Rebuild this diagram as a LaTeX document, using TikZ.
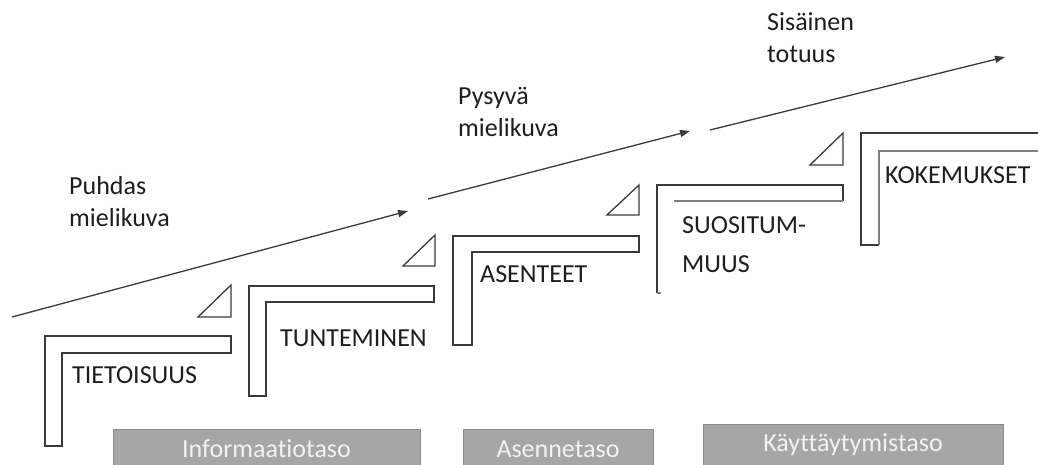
\documentclass[tikz,border=0pt]{standalone}
\usepackage{fontspec}
\setmainfont{Carlito}[Ligatures={NoCommon,NoContextual}]
\usetikzlibrary{arrows.meta}
\definecolor{inkline}{HTML}{3A3A3A}
\definecolor{softline}{HTML}{7F7F7F}
\definecolor{bandfill}{HTML}{A6A6A6}
\definecolor{bandedge}{HTML}{8C8C8C}
\definecolor{labelink}{HTML}{1E1E1E}
\begin{document}
\begin{tikzpicture}[x=1pt,y=-1pt,
  lbl/.style={inner sep=0pt, anchor=base west, align=left, text=labelink,
    font=\fontsize{26}{32}\selectfont},
  stair/.style={draw=inkline, line width=1.3pt, line join=miter},
  wedge/.style={draw=inkline, line width=1.3pt, line join=miter},
  flow/.style={draw=inkline, line width=1.3pt, -{Triangle[length=10pt,width=7pt]}},
  band/.style={fill=bandfill, draw=bandedge, line width=1pt},
  bandtxt/.style={text=white!95!black, inner sep=0pt, anchor=base,
    font=\fontsize{26}{32}\selectfont}
]
\useasboundingbox (0,0) rectangle (1038,465);

% rising arrows
\coordinate (a1s) at (12,317);  \coordinate (a1e) at (408,211);
\coordinate (a2s) at (428,199); \coordinate (a2e) at (690,131);
\coordinate (a3s) at (710,130); \coordinate (a3e) at (1005,57);
\draw[flow] (a1s) -- (a1e);
\draw[flow] (a2s) -- (a2e);
\draw[flow] (a3s) -- (a3e);

% two-line labels: anchored on the baseline of their last line
\node[lbl] (puhdas) at (69,226) {Puhdas\\mielikuva};
\node[lbl] (pysyva) at (458,137) {Pysyvä\\mielikuva};
\node[lbl] (sisainen) at (767,63) {Sisäinen\\totuus};

% stair steps
\draw[stair] (45,336) -- (231,336) -- (231,353) -- (62,353) -- (62,446) -- (45,446) -- cycle;
\draw[stair] (249,286) -- (434,286) -- (434,302) -- (266,302) -- (266,396) -- (249,396) -- cycle;
\draw[stair] (453,236) -- (639,236) -- (639,252) -- (472,252) -- (472,345) -- (453,345) -- cycle;
\draw[stair] (843,201) -- (843,185) -- (657,185) -- (657,293);
\draw[draw=softline, line width=1.3pt] (674,201) -- (843,201);
\draw[draw=softline, line width=1.3pt] (657,293) -- (661,293);
\draw[stair] (1038,133) -- (861,133) -- (861,245) -- (879,245);
\draw[draw=softline, line width=1.3pt] (879,245) -- (879,151) -- (1038,151);

% corner wedges
\draw[wedge] (198,317) -- (231,317) -- (231,285) -- cycle;
\draw[wedge] (403,266) -- (435,266) -- (435,235) -- cycle;
\draw[wedge] (607,215) -- (639,215) -- (639,185) -- cycle;
\draw[wedge] (810,165) -- (843,165) -- (843,133) -- cycle;

\node[lbl] (tietoisuus) at (72,383) {TIETOISUUS};
\node[lbl] (tunteminen) at (280,346) {TUNTEMINEN};
\node[lbl] (asenteet) at (480,282) {ASENTEET};
\node[lbl, font=\fontsize{26}{39}\selectfont] (suositummuus) at (682,272) {SUOSITUM-\\MUUS};
\node[lbl] (kokemukset) at (885,184) {KOKEMUKSET};

% level bands
\draw[band] (113,429) rectangle (420,466);
\draw[band] (463,429) rectangle (653,466);
\draw[band] (703,424) rectangle (1003,466);
\node[bandtxt] (info) at (266.5,457) {Informaatiotaso};
\node[bandtxt] (asenne) at (558,457) {Asennetaso};
\node[bandtxt] (kaytto) at (853,451) {Käyttäytymistaso};
\end{tikzpicture}
\end{document}
